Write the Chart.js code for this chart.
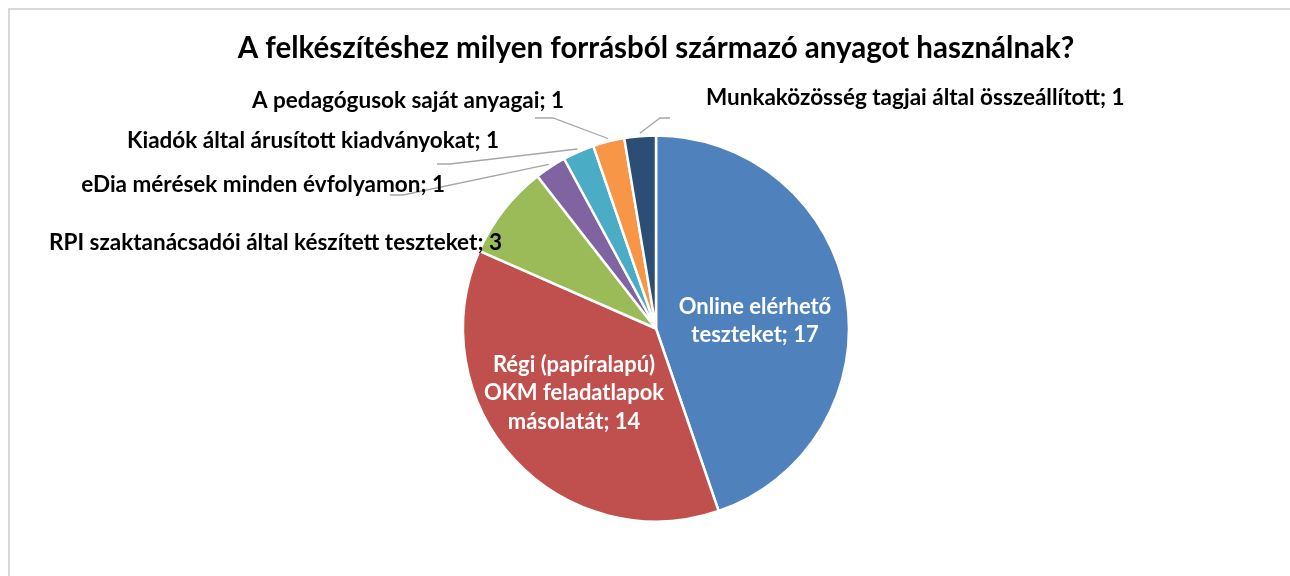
<!DOCTYPE html>
<html><head><meta charset="utf-8">
<script src="https://cdn.jsdelivr.net/npm/chart.js@4"></script>
<style>html,body{margin:0;padding:0;background:#fff;overflow:hidden}#wrap{width:1290px;height:576px;position:relative}</style>
</head><body><div id="wrap"><canvas id="c" width="1290" height="576"></canvas></div>
<script>
const chartTitle = "A felkészítéshez milyen forrásból származó anyagot használnak?";
const categories = [
  "Online elérhető teszteket",
  "Régi (papíralapú) OKM feladatlapok másolatát",
  "RPI szaktanácsadói által készített teszteket",
  "eDia mérések minden évfolyamon",
  "Kiadók által árusított kiadványokat",
  "A pedagógusok saját anyagai",
  "Munkaközösség tagjai által összeállított"
];
const values = [17, 14, 3, 1, 1, 1, 1];
const colors = ["#4F81BD", "#C0504D", "#9BBB59", "#8064A2", "#4BACC6", "#F79646", "#2C4D75"];

const FONT = "Lato, 'Open Sans', sans-serif";
// label layout (positions only)
const labelLayout = [
  {inside: true, x: 755, y: 321, wrap: 185, size: 22},
  {inside: true, x: 574, y: 393, wrap: 200, size: 22},
  {x: 502, y: 243, align: 'right', size: 22.5},
  {x: 445, y: 185, align: 'right', size: 22.5, leader: [[403, 195], [390, 195]]},
  {x: 499, y: 141, align: 'right', size: 22.5, leader: [[450, 164], [437, 164]]},
  {x: 564, y: 101, align: 'right', size: 22.5, leader: [[553, 118], [535, 118]]},
  {x: 706, y: 98, align: 'left', size: 22.5, leader: [[660, 118], [670, 118]]}
];

function wrapText(ctx, text, maxW) {
  const words = text.split(' ');
  const lines = [];
  let cur = '';
  for (const w of words) {
    const t = cur ? cur + ' ' + w : w;
    if (ctx.measureText(t).width > maxW && cur) { lines.push(cur); cur = w; }
    else cur = t;
  }
  if (cur) lines.push(cur);
  return lines;
}

const framePlugin = {
  id: 'frame',
  beforeDraw(chart) {
    const ctx = chart.ctx;
    ctx.save();
    ctx.fillStyle = '#fff';
    ctx.fillRect(0, 0, chart.width, chart.height);
    ctx.strokeStyle = '#d9d9d9';
    ctx.lineWidth = 2;
    ctx.beginPath();
    ctx.moveTo(9, chart.height);
    ctx.lineTo(9, 9);
    ctx.lineTo(chart.width, 9);
    ctx.stroke();
    ctx.restore();
  }
};

const labelPlugin = {
  id: 'pieLabels',
  afterDatasetsDraw(chart) {
    const ctx = chart.ctx;
    const meta = chart.getDatasetMeta(0);
    const ds = chart.data.datasets[0];
    ctx.save();
    meta.data.forEach((arc, i) => {
      const L = labelLayout[i];
      const p = arc.getProps(['x', 'y', 'startAngle', 'endAngle', 'outerRadius'], true);
      const text = chart.data.labels[i] + '; ' + ds.data[i];
      ctx.font = 'bold ' + L.size + 'px ' + FONT;
      ctx.textBaseline = 'middle';
      if (L.inside) {
        ctx.fillStyle = '#ffffff';
        ctx.textAlign = 'center';
        const lines = wrapText(ctx, text, L.wrap);
        const lh = 28.5;
        const y0 = L.y - (lines.length - 1) * lh / 2;
        lines.forEach((ln, k) => ctx.fillText(ln, L.x, y0 + k * lh));
      } else {
        if (L.leader) {
          const mid = (p.startAngle + p.endAngle) / 2;
          const r = p.outerRadius + 3;
          ctx.strokeStyle = '#a6a6a6';
          ctx.lineWidth = 1.3;
          ctx.beginPath();
          ctx.moveTo(p.x + Math.cos(mid) * r, p.y + Math.sin(mid) * r);
          L.leader.forEach(pt => ctx.lineTo(pt[0], pt[1]));
          ctx.stroke();
        }
        ctx.fillStyle = '#000000';
        ctx.textAlign = L.align;
        ctx.fillText(text, L.x, L.y);
      }
    });
    ctx.restore();
  }
};

new Chart(document.getElementById('c'), {
  type: 'pie',
  data: {
    labels: categories,
    datasets: [{
      data: values,
      backgroundColor: colors,
      borderColor: '#ffffff',
      borderWidth: 2.5,
      radius: 193
    }]
  },
  options: {
    responsive: false,
    animation: false,
    devicePixelRatio: 1,
    layout: {padding: {left: 22, right: 0, top: 0, bottom: 0}},
    plugins: {
      legend: {display: false},
      tooltip: {enabled: false},
      title: {
        display: true,
        text: chartTitle,
        color: '#000000',
        font: {family: FONT, size: 29.5, weight: 'bold', lineHeight: 1.2},
        padding: {top: 30.3, bottom: 15.3}
      }
    }
  },
  plugins: [framePlugin, labelPlugin]
});
</script>
</body></html>
